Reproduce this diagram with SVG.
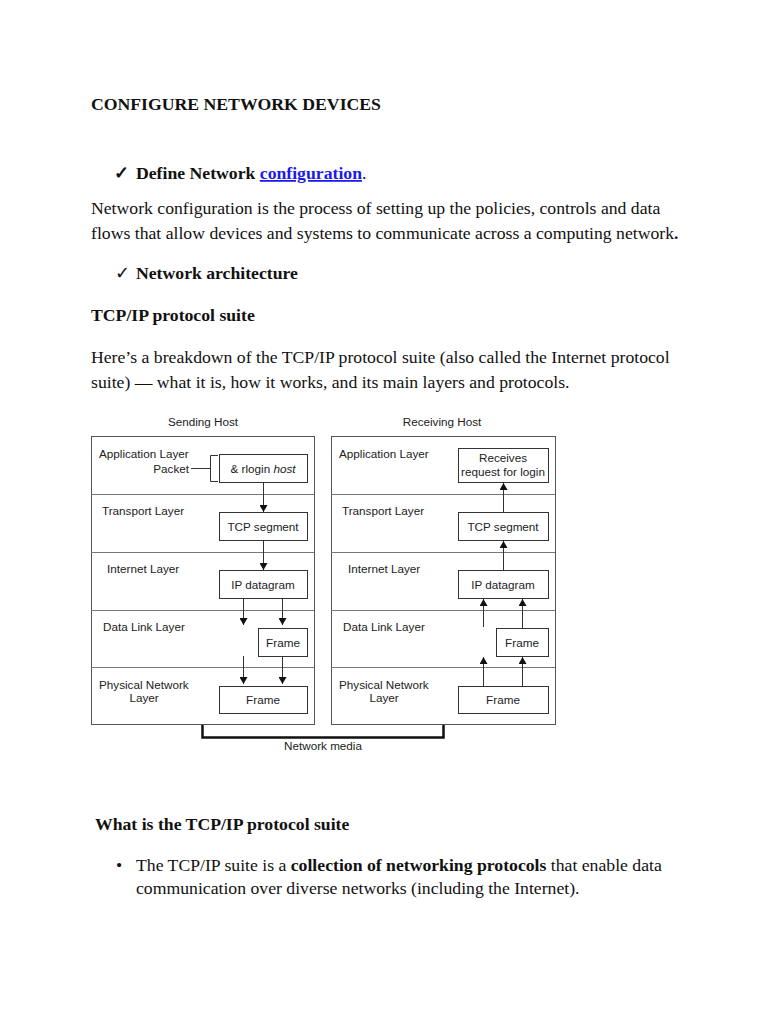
<svg xmlns="http://www.w3.org/2000/svg" width="768" height="1024" viewBox="0 0 768 1024">
<defs>
<style>
.doc{font-family:"Liberation Serif","Times New Roman",serif;font-size:17.7px;fill:#111}
.b{font-weight:bold}
.dg{font-family:"Liberation Sans",Arial,sans-serif;font-size:11.7px;fill:#222}
.panel{fill:none;stroke:#555;stroke-width:1}
.div{stroke:#777;stroke-width:1}
.box{fill:#fff;stroke:#333;stroke-width:1}
.con{stroke:#333;stroke-width:1;fill:none}
</style>
<marker id="ah" viewBox="0 0 7 8" refX="7" refY="4" markerWidth="7" markerHeight="8" markerUnits="userSpaceOnUse" orient="auto">
<path d="M0,0 L7,4 L0,8 z" fill="#111"/>
</marker>
</defs>
<rect width="768" height="1024" fill="#fff"/>

<g id="document-text">
<text class="doc b" x="91" y="110">CONFIGURE NETWORK DEVICES</text>
<text class="doc b" x="114" y="179">✓</text>
<text class="doc b" x="136" y="179">Define Network <tspan fill="#1a1aee" text-decoration="underline">configuration</tspan><tspan font-weight="normal">.</tspan></text>
<text class="doc" x="91" y="214">Network configuration is the process of setting up the policies, controls and data</text>
<text class="doc" x="91" y="239">flows that allow devices and systems to communicate across a computing network<tspan font-weight="bold">.</tspan></text>
<text class="doc" x="115" y="279" font-size="15">✓</text>
<text class="doc b" x="136" y="279">Network architecture</text>
<text class="doc b" x="91" y="321">TCP/IP protocol suite</text>
<text class="doc" x="91" y="363">Here’s a breakdown of the TCP/IP protocol suite (also called the Internet protocol</text>
<text class="doc" x="91" y="388">suite) — what it is, how it works, and its main layers and protocols.</text>
<text class="doc b" x="95" y="830">What is the TCP/IP protocol suite</text>
<text class="doc" x="116" y="871">•</text>
<text class="doc" x="136" y="871">The TCP/IP suite is a <tspan font-weight="bold">collection of networking protocols</tspan> that enable data</text>
<text class="doc" x="136" y="894">communication over diverse networks (including the Internet).</text>
</g>

<g id="sending-host">
<text class="dg" x="203" y="426" text-anchor="middle">Sending Host</text>
<rect class="panel" x="91.5" y="436.5" width="223" height="288"/>
<line class="div" x1="91" y1="494.5" x2="314" y2="494.5"/>
<line class="div" x1="91" y1="552.5" x2="314" y2="552.5"/>
<line class="div" x1="91" y1="610.5" x2="314" y2="610.5"/>
<line class="div" x1="91" y1="667.5" x2="314" y2="667.5"/>
<text class="dg" x="99" y="458">Application Layer</text>
<text class="dg" x="189" y="473" text-anchor="end">Packet</text>
<text class="dg" x="102" y="515">Transport Layer</text>
<text class="dg" x="107" y="573">Internet Layer</text>
<text class="dg" x="103" y="631">Data Link Layer</text>
<text class="dg" x="99" y="689">Physical Network</text>
<text class="dg" x="144" y="702" text-anchor="middle">Layer</text>
</g>

<g id="receiving-host">
<text class="dg" x="442" y="426" text-anchor="middle">Receiving Host</text>
<rect class="panel" x="331.5" y="436.5" width="224" height="288"/>
<line class="div" x1="331" y1="494.5" x2="555" y2="494.5"/>
<line class="div" x1="331" y1="552.5" x2="555" y2="552.5"/>
<line class="div" x1="331" y1="610.5" x2="555" y2="610.5"/>
<line class="div" x1="331" y1="667.5" x2="555" y2="667.5"/>
<text class="dg" x="339" y="458">Application Layer</text>
<text class="dg" x="342" y="515">Transport Layer</text>
<text class="dg" x="348" y="573">Internet Layer</text>
<text class="dg" x="343" y="631">Data Link Layer</text>
<text class="dg" x="339" y="689">Physical Network</text>
<text class="dg" x="384" y="702" text-anchor="middle">Layer</text>
</g>

<g id="s-rlogin"><rect class="box" x="219.5" y="454.5" width="88" height="28"/><text class="dg" x="263" y="473" text-anchor="middle">&amp; rlogin <tspan font-style="italic">host</tspan></text></g>
<g id="s-tcp"><rect class="box" x="219.5" y="512.5" width="88" height="28"/><text class="dg" x="263" y="531" text-anchor="middle">TCP segment</text></g>
<g id="s-ip"><rect class="box" x="219.5" y="570.5" width="88" height="28"/><text class="dg" x="263" y="589" text-anchor="middle">IP datagram</text></g>
<g id="s-frame-dl"><rect class="box" x="258.5" y="628.5" width="49" height="28"/><text class="dg" x="283" y="647" text-anchor="middle">Frame</text></g>
<g id="s-frame-ph"><rect class="box" x="219.5" y="686.5" width="88" height="27"/><text class="dg" x="263" y="704" text-anchor="middle">Frame</text></g>

<g id="r-receives"><rect class="box" x="458.5" y="448.5" width="90" height="34"/><text class="dg" x="503" y="462" text-anchor="middle">Receives</text><text class="dg" x="503" y="476" text-anchor="middle">request for login</text></g>
<g id="r-tcp"><rect class="box" x="458.5" y="512.5" width="90" height="28"/><text class="dg" x="503" y="531" text-anchor="middle">TCP segment</text></g>
<g id="r-ip"><rect class="box" x="458.5" y="570.5" width="90" height="28"/><text class="dg" x="503" y="589" text-anchor="middle">IP datagram</text></g>
<g id="r-frame-dl"><rect class="box" x="496.5" y="628.5" width="52" height="28"/><text class="dg" x="522" y="647" text-anchor="middle">Frame</text></g>
<g id="r-frame-ph"><rect class="box" x="458.5" y="686.5" width="90" height="27"/><text class="dg" x="503" y="704" text-anchor="middle">Frame</text></g>

<g id="network-media">
<path d="M202.5,725 V737.5 H443.5 V725" fill="none" stroke="#111" stroke-width="2.5"/>
<text class="dg" x="323" y="750" text-anchor="middle">Network media</text>
</g>

<g id="connectors">
<path class="con" d="M191,468.5 H210.5"/>
<path class="con" d="M218,455.5 H210.5 V481.5 H218"/>
<line class="con" x1="263.5" y1="483" x2="263.5" y2="512" marker-end="url(#ah)"/>
<line class="con" x1="263.5" y1="541" x2="263.5" y2="570" marker-end="url(#ah)"/>
<line class="con" x1="243.5" y1="599" x2="243.5" y2="625" marker-end="url(#ah)"/>
<line class="con" x1="282.5" y1="599" x2="282.5" y2="625" marker-end="url(#ah)"/>
<line class="con" x1="243.5" y1="656" x2="243.5" y2="684" marker-end="url(#ah)"/>
<line class="con" x1="282.5" y1="657" x2="282.5" y2="684" marker-end="url(#ah)"/>
<line class="con" x1="503.5" y1="512" x2="503.5" y2="483" marker-end="url(#ah)"/>
<line class="con" x1="503.5" y1="570" x2="503.5" y2="541" marker-end="url(#ah)"/>
<line class="con" x1="483.5" y1="627" x2="483.5" y2="599" marker-end="url(#ah)"/>
<line class="con" x1="522.5" y1="628" x2="522.5" y2="599" marker-end="url(#ah)"/>
<line class="con" x1="483.5" y1="686" x2="483.5" y2="657" marker-end="url(#ah)"/>
<line class="con" x1="522.5" y1="686" x2="522.5" y2="657" marker-end="url(#ah)"/>
</g>
</svg>
